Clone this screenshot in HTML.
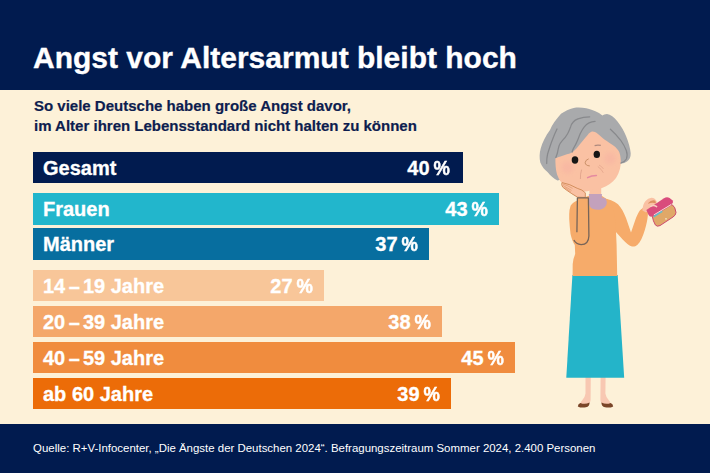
<!DOCTYPE html>
<html><head><meta charset="utf-8">
<style>
*{margin:0;padding:0;box-sizing:border-box}
html,body{width:710px;height:473px;overflow:hidden;background:#FDF1D8;font-family:"Liberation Sans",sans-serif}
#hdr{position:absolute;left:0;top:0;width:710px;height:90px;background:#011B4F}
#title{position:absolute;left:33px;top:40px;font-size:30px;font-weight:bold;color:#fff;white-space:nowrap;line-height:36px;-webkit-text-stroke:0.35px #fff}
#sub{position:absolute;left:34px;top:96px;font-size:15px;font-weight:bold;color:#0D1D4F;line-height:20px;white-space:nowrap;-webkit-text-stroke:0.2px #0D1D4F}
.bar{position:absolute;left:33px;height:31px}
.bar .l{position:absolute;left:10px;top:1px;line-height:31px;font-size:20px;font-weight:bold;color:#fff;white-space:nowrap;-webkit-text-stroke:0.3px #fff}
.bar .v{position:absolute;right:11.6px;top:1px;line-height:31px;font-size:20px;font-weight:bold;color:#fff;white-space:nowrap;-webkit-text-stroke:0.3px #fff}
.bar .v span{margin-left:2px;display:inline-block;transform:scaleX(0.92);transform-origin:100% 50%;-webkit-text-stroke:0.5px #fff}
#ftr{position:absolute;left:0;top:424px;width:710px;height:49px;background:#011B4F}
#src{position:absolute;left:33.1px;top:440px;font-size:11.45px;color:#fff;white-space:nowrap;line-height:16px}
svg{position:absolute;left:0;top:0}
.d{font-style:normal;margin:0 3px 0 3.5px}
</style></head><body>
<div id="hdr"></div>
<div id="title">Angst vor Altersarmut bleibt hoch</div>
<div id="sub">So viele Deutsche haben große Angst davor,<br>im Alter ihren Lebensstandard nicht halten zu können</div>

<div class="bar" id="b1" style="top:152px;width:430px;background:#011B4F"><div class="l">Gesamt</div><div class="v" style="right:13.6px">40<span>%</span></div></div>
<div class="bar" id="b2" style="top:193px;height:32px;width:466px;background:#22B6CC"><div class="l">Frauen</div><div class="v">43<span>%</span></div></div>
<div class="bar" id="b3" style="top:228px;height:32px;width:396px;background:#076E9F"><div class="l">Männer</div><div class="v">37<span>%</span></div></div>
<div class="bar" id="b4" style="top:270px;width:291px;background:#F8C699"><div class="l">14<i class="d">–</i>19 Jahre</div><div class="v">27<span>%</span></div></div>
<div class="bar" id="b5" style="top:306px;width:409px;background:#F4A76A"><div class="l">20<i class="d">–</i>39 Jahre</div><div class="v">38<span>%</span></div></div>
<div class="bar" id="b6" style="top:342px;width:482px;background:#F08C3E"><div class="l">40<i class="d">–</i>59 Jahre</div><div class="v">45<span>%</span></div></div>
<div class="bar" id="b7" style="top:378px;width:418px;background:#EC6C08"><div class="l">ab 60 Jahre</div><div class="v">39<span>%</span></div></div>

<div id="ftr"></div>
<div id="src">Quelle: R+V-Infocenter, „Die Ängste der Deutschen 2024“. Befragungszeitraum Sommer 2024, 2.400 Personen</div>

<svg width="710" height="473" viewBox="0 0 710 473">
<defs>
<filter id="bl" x="-50%" y="-50%" width="200%" height="200%"><feGaussianBlur stdDeviation="2.2"/></filter>
</defs>
<!-- legs -->
<path d="M585.5,376 L590.8,376 L590.6,399.5 Q590.6,403 588,403.8 L580.5,404.4 Q580,402.2 582.2,400.2 Q585,397.5 585.5,393.5 Z" fill="#F8C8B2"/>
<path d="M600.6,376 L605.6,376 L605.4,393.5 Q606,397.5 608.8,400.2 Q611,402.2 610.5,404.4 L603,403.8 Q600.4,403 600.4,399.5 Z" fill="#F8C8B2"/>
<path d="M577.8,406.4 Q578,403.4 580.4,402.9 Q584.8,404.8 589.6,402.4 Q589.6,406.2 586,407.3 Q581,408.2 577.8,406.4 Z" fill="#7A4528"/>
<path d="M613.2,406.4 Q613,403.4 610.6,402.9 Q606.2,404.8 601.4,402.4 Q601.4,406.2 605,407.3 Q610,408.2 613.2,406.4 Z" fill="#7A4528"/>
<!-- skirt -->
<path d="M572.4,275 L617.7,275 L624.2,377.7 L566.3,377.7 Z" fill="#24B4C9"/>
<!-- right arm -->
<path d="M603,198.4 C608.5,198.8 614,200.5 618,204.3 C621.5,208 624,213 626,218 L631,232.6 L635.2,220.2 C636.5,216.5 638,213 640,210.2 L643.5,207.6 L647.8,208.5 C648.2,213 647.8,218 646.9,221.7 C645.9,227 644.1,233 641.8,238.2 C640,242 637.6,245.9 634.1,246.5 C631,246.9 628,244.6 622.7,239.4 L615.7,231.8 Z" fill="#F6AB6A"/>
<!-- torso -->
<path d="M588,196 L577.5,200.4 Q572.5,202 570.6,205.8 Q569.3,209.5 569.2,214 L569.2,219 Q569.8,228 570.5,233.8 Q572,241 574.8,245 L575.2,254 Q573,259 572.7,264 L572.6,276 L617.2,276 L616.6,245 L616.1,233.8 L615.6,226 Q615,205 606.6,199 L602,196 Z" fill="#F6AB6A"/>
<!-- neck -->
<path d="M589.4,185 L601.2,185 L601.2,194.6 L589.4,194.6 Z" fill="#FAC1A3"/>
<!-- turtleneck -->
<path d="M588.9,194.1 L601.9,194.1 L601.9,197.6 Q604.6,197.8 605.8,198.8 Q607.3,201.6 606.5,204.6 Q605,208.4 600.5,209.6 Q596,210.3 592,208.5 Q589,206.6 588.9,202 Z" fill="#C3A1BC"/>
<!-- hair back -->
<path d="M550,129.9 C552,125 556,119.5 561,113.8 C565,111 569,108.8 573.7,107.9 C578,107.3 582,107.5 586.3,108.3 C590,109 594,110.5 599,113 L602.4,115.5 C603.5,114.6 605,114.1 607,113.9 C610.5,114.5 614,117 617.5,121.5 C621,126 624,131 626,136 C628.5,142 630.3,148 630.7,153.3 C630.8,157 629.5,160 627,161.5 C625,162.8 623.5,163.3 621.5,163.5 L557.5,180.5 C554,178.8 550.5,176 547.5,172 C545,170 542,167 540.3,162.5 C539.3,158 539.4,153 540.7,148.5 C542.5,142 545.5,136 550,129.9 Z" fill="#A9AAAC"/>
<!-- face -->
<path d="M555.4,158.2 C559,156.8 566,154.8 571,153 C574,151.5 576,149 578.5,146 C581,143 584.5,138.5 587.7,134.9 C589.2,133.2 590.5,132 592,131.6 C594,131.4 595.5,132.2 597,133.2 C599,134.7 601.5,137.2 604.4,139.4 C607.5,141.5 611,143.8 613.7,145.7 C616,147.3 618,149.8 619.2,152 C620.2,154.5 620.6,157.5 620.8,160.5 C621.1,166 619.6,172.5 616,178 C612.5,182.5 607.5,186 602,188 L590,190.6 C586.5,191.8 584,191.8 581,190.8 C575,189 568,186 562,183 C560.2,181.5 559,179.5 558.2,177.3 C556.3,173.5 555.6,168 555.4,162 Z" fill="#FAC1A3"/>
<!-- blush -->
<circle cx="567.5" cy="167.5" r="6" fill="#F4A6A2" filter="url(#bl)" opacity="0.3"/>
<circle cx="610" cy="158.5" r="6" fill="#F4A6A2" filter="url(#bl)" opacity="0.3"/>
<!-- hair strands -->
<path d="M589.7,116.8 C586,116.8 582,117.3 577.9,118.9 C575,120 572,122 570.6,126.9 C569.5,129.5 568.8,131.5 567.6,133.7 C566,136.5 564.5,138.5 562.5,140.4 C560.8,142.3 559.6,144 559,146 C558.2,148.5 557.8,151 557.4,153 C556.8,155 556.2,156.5 555.8,157.5" stroke="#88898C" stroke-width="1.25" fill="none" stroke-linecap="round"/>
<path d="M595.1,121.4 C591,121.6 587,123.5 584.3,126.8 C582.5,129 581.4,131.2 580.3,133.5 C579.3,135.8 578.5,138 577.6,140.3 C576.4,143.2 575,146 573.5,148.4 C572.9,149.6 572.4,150.8 572.1,152" stroke="#88898C" stroke-width="1.25" fill="none" stroke-linecap="round"/>
<path d="M557,129 C555.8,131.5 554.5,134 553.5,137 C552.5,139.5 551.5,142 550.5,145 C549.5,148 548.5,151 547.6,154 C546.9,157 546.6,160 546.7,163.5" stroke="#88898C" stroke-width="1.25" fill="none" stroke-linecap="round"/>
<path d="M610.4,129.2 C614,132.5 617.5,136 620.5,140 C623,143.5 625,147 626.3,150.5 C627.3,153.5 627.4,156.5 626.4,159 C625.3,161 623.3,162.3 621,163" stroke="#88898C" stroke-width="1.25" fill="none" stroke-linecap="round"/>
<!-- eyes -->
<ellipse cx="575" cy="160" rx="3.3" ry="3.7" fill="#151515"/>
<ellipse cx="596.8" cy="154.4" rx="3.2" ry="3.6" fill="#151515"/>
<!-- eyebrow -->
<path d="M594.6,145.6 Q597.6,144.6 600.8,145.4" stroke="#AE8A7E" stroke-width="1.2" fill="none"/>
<!-- nose -->
<path d="M588.3,159 Q585.4,160 585.2,162.6 Q585.3,165.6 589.4,165.9" stroke="#C98E66" stroke-width="1" fill="none" stroke-linecap="round"/>
<!-- mouth -->
<path d="M587.6,177.6 Q591.5,175.4 596.4,175.4" stroke="#E58AA0" stroke-width="1.5" fill="none" stroke-linecap="round"/>
<!-- wrinkles -->
<path d="M581.6,169.6 Q580.2,174 580.4,179" stroke="#DDA088" stroke-width="0.8" fill="none"/>
<path d="M597.8,166.5 Q601.5,169 603.3,172.8" stroke="#E0A088" stroke-width="0.7" fill="none"/>
<path d="M599,165 Q602,166.5 603.5,169" stroke="#E0A088" stroke-width="0.6" fill="none"/>
<!-- hand under chin -->
<path d="M562,182.6 Q570,184 577.2,188.3 Q582.4,189.6 585.3,192.8 L585.3,197.4 L577.5,197.2 Q572,194 566.1,189.8 Q561.5,187 561.7,184.6 Z" fill="#FAC1A3" stroke="#D48F5E" stroke-width="1"/>
<path d="M562.8,184 Q568,185.6 572.5,188.4 M563.2,185.6 Q567,187.6 571.5,190.4 M564.6,187.4 Q567.5,189.4 570.8,192" stroke="#DE9A6C" stroke-width="0.7" fill="none"/>
<!-- cuff -->
<rect x="577.4" y="197.9" width="10.9" height="12" fill="#F6AB6A"/>
<!-- arm outline -->
<path d="M576.9,232.2 L577.4,197.9 L588.4,197.9 L588.9,236 Q588.6,244.6 581.2,244.6 Q576,244.2 573.9,240" stroke="#776458" stroke-width="1.3" fill="none" stroke-linejoin="round"/>
<!-- wallet hand -->
<path d="M642.4,210.4 Q642.8,204.2 645.3,201.2 Q648,198.1 651.5,197.7 Q655.2,198 656.7,201.5 L657,206.8 Q653,207.6 650,209.4 L646,212.5 Z" fill="#FAC1A3"/>
<path d="M648.2,202.9 Q651,199.7 654.8,200.4 Q656.2,201.3 655.8,203.4 Q652,202.2 648.2,203.7 Z" fill="#DC9262"/>
<!-- wallet body -->
<path d="M652.3,216.3 L672,204.5 Q675.5,207 676,212.5 Q675.6,215.5 673,217 L660,225.6 Q657,227 655.4,225 Q653,221 652.3,216.3 Z" fill="#E0A868" stroke="#CC4A6E" stroke-width="1"/>
<path d="M653.2,215.4 L662,209.9 L662.5,211.9 L653.9,217.6 Z" fill="#5EC0CC"/>
<circle cx="666" cy="218.8" r="0.9" fill="#F4E0C8"/>
<!-- wallet flap -->
<path d="M646.4,210 L664,198.3 Q666.6,196.6 669.6,197.9 L672.4,200.3 Q673.6,202 672.6,203.2 L653,216.2 Q650,217.6 648.6,215 Z" fill="#D94C7C"/>
<path d="M653.8,214.9 L671.2,204.6" stroke="#F8D4D8" stroke-width="1" fill="none"/>
<path d="M650.6,206.3 Q653.6,204.5 656.6,206.6" stroke="#F7CFC0" stroke-width="1.5" fill="none" stroke-linecap="round"/>
</svg>
</body></html>
